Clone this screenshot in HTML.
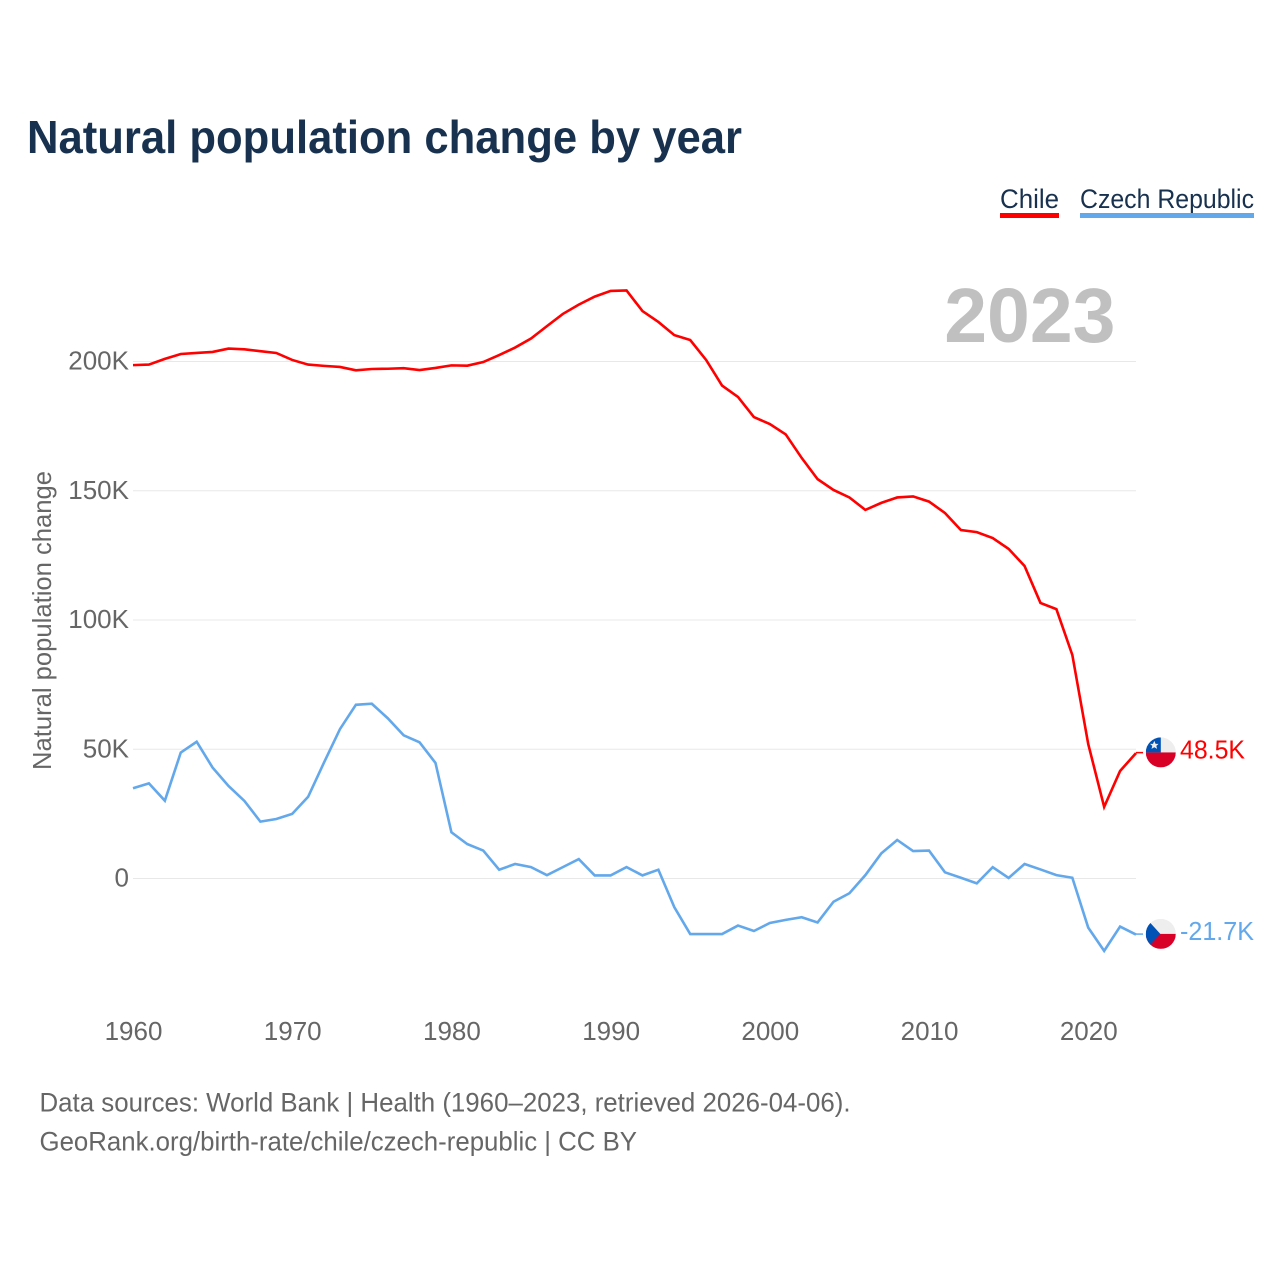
<!DOCTYPE html>
<html lang="en">
<head>
<meta charset="utf-8">
<title>Natural population change by year</title>
<style>
  html, body { margin: 0; padding: 0; background: #fff; }
  svg { display: block; }
  text { font-family: "Liberation Sans", sans-serif; }
</style>
</head>
<body>
<svg id="chart" xmlns="http://www.w3.org/2000/svg" width="1280" height="1280" viewBox="0 0 1280 1280">
  <defs>
    <clipPath id="flag-clip"><circle cx="0" cy="0" r="15"></circle></clipPath>
  </defs>
  <rect x="0" y="0" width="1280" height="1280" fill="#ffffff"></rect>

  <text x="27" y="153" font-size="46" font-weight="700" fill="#17314f" textLength="715" lengthAdjust="spacingAndGlyphs">Natural population change by year</text>

  <g>
    <text x="1000" y="208" font-size="27" fill="#17314f" textLength="59" lengthAdjust="spacingAndGlyphs">Chile</text>
    <rect x="1000" y="213" width="59" height="5" fill="#ff0000"></rect>
  </g>
  <g>
    <text x="1080" y="208" font-size="27" fill="#17314f" textLength="174" lengthAdjust="spacingAndGlyphs">Czech Republic</text>
    <rect x="1080" y="213" width="174" height="5" fill="#63a8eb"></rect>
  </g>

  <text x="1115.5" y="342" font-size="77" font-weight="700" fill="#c0c0c0" text-anchor="end">2023</text>

  <text transform="translate(51 770) rotate(-90)" x="0" y="0" font-size="26" fill="#666666" textLength="299" lengthAdjust="spacingAndGlyphs">Natural population change</text>

  <g id="grid-layer"></g>
  <g id="y-tick-layer"></g>
  <g id="x-tick-layer"></g>
  <g id="series-layer"></g>

  <g id="flag-chile">
    <g clip-path="url(#flag-clip)">
      <rect x="-15" y="-15" width="30" height="15" fill="#eeeeee"></rect>
      <rect x="-15" y="0" width="30" height="15" fill="#d80027"></rect>
      <rect x="-15" y="-15" width="15" height="15" fill="#0052b4"></rect>
      <polygon points="-6.5,-11.5 -5.2,-8.6 -2.2,-8.6 -4.5,-6.6 -3.7,-3.6 -6.5,-5.2 -9.3,-3.6 -8.5,-6.6 -10.8,-8.6 -7.8,-8.6" fill="#eeeeee"></polygon>
    </g>
  </g>
  <g id="flag-czech">
    <g clip-path="url(#flag-clip)">
      <rect x="-15" y="-15" width="30" height="15" fill="#eeeeee"></rect>
      <rect x="-15" y="0" width="30" height="15" fill="#d80027"></rect>
      <polygon points="-15,-15 -10.5,-11 -0.5,0 -10.5,11 -15,15" fill="#0052b4"></polygon>
    </g>
  </g>

  <text id="end-label-chile" x="1180" font-size="26" fill="#ff0000" textLength="65" lengthAdjust="spacingAndGlyphs"></text>
  <text id="end-label-czech" x="1180" font-size="26" fill="#63a8eb" textLength="74" lengthAdjust="spacingAndGlyphs"></text>

  <text x="39.5" y="1111.5" font-size="26.5" fill="#666666" textLength="811" lengthAdjust="spacingAndGlyphs">Data sources: World Bank | Health (1960–2023, retrieved 2026-04-06).</text>
  <text x="39.5" y="1150.5" font-size="26.5" fill="#666666" textLength="597.5" lengthAdjust="spacingAndGlyphs">GeoRank.org/birth-rate/chile/czech-republic | CC BY</text>
</svg>

<script>
const years = [1960,1961,1962,1963,1964,1965,1966,1967,1968,1969,1970,1971,1972,1973,1974,1975,1976,1977,1978,1979,1980,1981,1982,1983,1984,1985,1986,1987,1988,1989,1990,1991,1992,1993,1994,1995,1996,1997,1998,1999,2000,2001,2002,2003,2004,2005,2006,2007,2008,2009,2010,2011,2012,2013,2014,2015,2016,2017,2018,2019,2020,2021,2022,2023];
const chileValues = [198.6,198.8,201,202.9,203.3,203.7,205,204.7,204,203.3,200.6,198.8,198.3,197.9,196.6,197.1,197.2,197.4,196.7,197.5,198.5,198.4,199.8,202.5,205.4,208.9,213.7,218.4,222,225.1,227.3,227.5,219.5,215.3,210.2,208.3,200.6,190.7,186.3,178.5,175.8,171.8,162.7,154.5,150.3,147.4,142.6,145.3,147.4,147.8,145.8,141.4,134.8,134,131.7,127.5,120.9,106.6,104.2,86.5,52,27.7,41.6,48.5];
const czechValues = [34.9,36.8,30.1,48.7,52.9,42.9,35.8,30,22,23,25,31.6,44.9,57.8,67.2,67.6,62,55.4,52.7,44.7,17.9,13.3,10.8,3.4,5.6,4.4,1.3,4.4,7.5,1.2,1.2,4.4,1.2,3.4,-11.1,-21.5,-21.5,-21.5,-18.2,-20.3,-17.2,-16,-15,-17,-9,-5.7,1.3,9.7,14.9,10.6,10.8,2.4,0.3,-1.9,4.4,0.2,5.6,3.5,1.3,0.3,-19,-28,-18.6,-21.7];
const yTickValues = [0,50,100,150,200];
const yTickLabels = ['0','50K','100K','150K','200K'];
const xTickValues = [1960,1970,1980,1990,2000,2010,2020];
const xTickLabels = ['1960','1970','1980','1990','2000','2010','2020'];

const SVG_NS = 'http://www.w3.org/2000/svg';
const plot = { left: 133, right: 1136, zeroY: 878.5, pxPerUnit: 2.585 };

function xScale(year) {
  return plot.left + (year - years[0]) * (plot.right - plot.left) / (years[years.length - 1] - years[0]);
}
function yScale(value) {
  return plot.zeroY - value * plot.pxPerUnit;
}
function formatValue(value) {
  return value.toFixed(1) + 'K';
}

const gridLayer = document.getElementById('grid-layer');
const yTickLayer = document.getElementById('y-tick-layer');
const xTickLayer = document.getElementById('x-tick-layer');
const seriesLayer = document.getElementById('series-layer');

yTickValues.forEach(function (tick, i) {
  const line = document.createElementNS(SVG_NS, 'line');
  
  
  line.setAttribute('x1', plot.left);
  line.setAttribute('x2', plot.right);
  line.setAttribute('y1', yScale(tick));
  line.setAttribute('y2', yScale(tick));
  line.setAttribute('stroke', '#e8e8e8');
  line.setAttribute('stroke-width', '1');
  gridLayer.appendChild(line);

  const label = document.createElementNS(SVG_NS, 'text');
  
  
  label.setAttribute('x', 129);
  label.setAttribute('y', yScale(tick) + 8);
  label.setAttribute('font-size', '26');
  label.setAttribute('fill', '#666666');
  label.setAttribute('text-anchor', 'end');
  label.textContent = yTickLabels[i];
  yTickLayer.appendChild(label);
});

xTickValues.forEach(function (tick, i) {
  const label = document.createElementNS(SVG_NS, 'text');
  
  
  label.setAttribute('x', xScale(tick) + 0.5);
  label.setAttribute('y', 1040);
  label.setAttribute('font-size', '26');
  label.setAttribute('fill', '#666666');
  label.setAttribute('text-anchor', 'middle');
  label.textContent = xTickLabels[i];
  xTickLayer.appendChild(label);
});

function drawSeries(values, color, lineName, connectorName, flagId, labelId) {
  const points = values.map(function (v, i) {
    return xScale(years[i]).toFixed(2) + ',' + yScale(v).toFixed(2);
  }).join(' ');
  const line = document.createElementNS(SVG_NS, 'polyline');
  
  
  line.setAttribute('points', points);
  line.setAttribute('fill', 'none');
  line.setAttribute('stroke', color);
  line.setAttribute('stroke-width', '2.6');
  line.setAttribute('stroke-linejoin', 'miter');
  seriesLayer.appendChild(line);

  const last = values[values.length - 1];
  const lastY = yScale(last);

  const connector = document.createElementNS(SVG_NS, 'line');
  
  
  connector.setAttribute('x1', plot.right);
  connector.setAttribute('x2', plot.right + 7);
  connector.setAttribute('y1', lastY - 0.5);
  connector.setAttribute('y2', lastY - 0.5);
  connector.setAttribute('stroke', color);
  connector.setAttribute('stroke-width', '1.5');
  seriesLayer.appendChild(connector);

  document.getElementById(flagId).setAttribute('transform', 'translate(1160.8 ' + (lastY - 0.7) + ')');
  const label = document.getElementById(labelId);
  label.setAttribute('y', lastY + 5.6);
  label.textContent = formatValue(last);
}

drawSeries(chileValues, '#ff0000', 'line-chile', 'connector-chile', 'flag-chile', 'end-label-chile');
drawSeries(czechValues, '#63a8eb', 'line-czech-republic', 'connector-czech-republic', 'flag-czech', 'end-label-czech');
</script>
</body>
</html>
